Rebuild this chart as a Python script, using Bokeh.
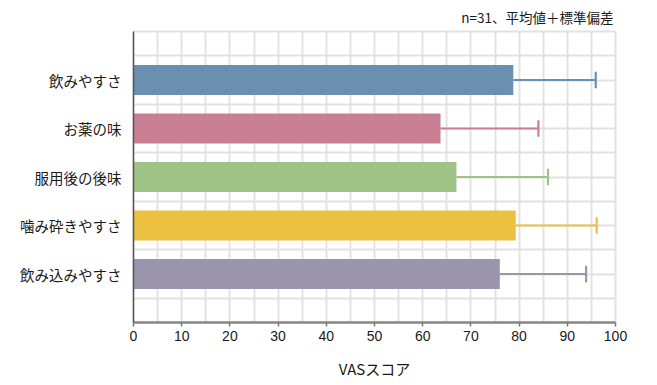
from bokeh.plotting import figure
from bokeh.models import FixedTicker, ColumnDataSource
from bokeh.embed import file_html
from bokeh.resources import INLINE

categories = ["飲みやすさ", "お薬の味", "服用後の後味", "噛み砕きやすさ", "飲み込みやすさ"]
means = [78.8, 63.7, 67.0, 79.3, 76.0]
upper = [95.9, 84.0, 86.0, 96.1, 93.9]
colors = ["#6a8fb0", "#c97f93", "#9dc484", "#ecc040", "#9a95ad"]
x_ticks = [0, 10, 20, 30, 40, 50, 60, 70, 80, 90, 100]
note = "n=31、平均値＋標準偏差"
x_label = "VASスコア"

n = len(categories)
pos = [n - i for i in range(n)]
cap = 0.17
src = ColumnDataSource(dict(
    y=pos, mean=means, up=upper, color=colors,
    cap_lo=[p - cap for p in pos], cap_hi=[p + cap for p in pos],
))

p = figure(output_backend="svg", toolbar_location=None,
           x_range=(0, 100), y_range=(0, n + 1), title=note,
           min_border_left=133, min_border_right=30, min_border_top=0, min_border_bottom=54)
p.frame_width = 482
p.frame_height = 291

p.title.align = "right"
p.title.text_font = "Noto Sans CJK JP"
p.title.text_font_size = "13.5px"
p.title.text_font_style = "normal"
p.title.text_color = "#1a1a1a"
p.title.offset = 2
p.title.standoff = 9

p.hbar(y="y", left=0, right="mean", height=0.62, color="color", line_color=None, source=src)
p.segment(x0="mean", y0="y", x1="up", y1="y", line_color="color", line_width=2.2, source=src)
p.segment(x0="up", y0="cap_lo", x1="up", y1="cap_hi", line_color="color", line_width=2.2, source=src)

# grids
p.xgrid.ticker = FixedTicker(ticks=list(range(0, 101, 5)))
p.ygrid.ticker = FixedTicker(ticks=[k * 0.5 for k in range(0, 2 * (n + 1) + 1)])
for g in (p.xgrid, p.ygrid):
    g.grid_line_color = "#e2e2e2"
    g.grid_line_width = 2
p.outline_line_color = "#e2e2e2"
p.outline_line_width = 2
p.background_fill_color = "white"
p.border_fill_color = "white"

# y axis
p.yaxis.ticker = FixedTicker(ticks=pos)
p.yaxis.major_label_overrides = {pp: c for pp, c in zip(pos, categories)}
p.yaxis.major_tick_line_color = None
p.yaxis.minor_tick_line_color = None
p.yaxis.axis_line_color = "#555555"
p.yaxis.axis_line_width = 1.5
p.yaxis.major_label_text_font = "Noto Sans CJK JP"
p.yaxis.major_label_text_font_size = "14.5px"
p.yaxis.major_label_text_color = "#1a1a1a"
p.yaxis.major_label_standoff = 6

# x axis
p.xaxis.ticker = FixedTicker(ticks=x_ticks)
p.xaxis.axis_line_color = "#888888"
p.xaxis.axis_line_width = 2.5
p.xaxis.major_tick_line_color = "#777777"
p.xaxis.major_tick_line_width = 1.5
p.xaxis.major_tick_in = 0
p.xaxis.major_tick_out = 4
p.xaxis.minor_tick_line_color = None
p.xaxis.major_label_text_font = "Liberation Sans"
p.xaxis.major_label_text_font_size = "14px"
p.xaxis.major_label_text_color = "#1a1a1a"
p.xaxis.major_label_standoff = 4
p.xaxis.axis_label = x_label
p.xaxis.axis_label_text_font = "Noto Sans CJK JP"
p.xaxis.axis_label_text_font_style = "normal"
p.xaxis.axis_label_text_font_size = "15px"
p.xaxis.axis_label_text_color = "#1a1a1a"
p.xaxis.axis_label_standoff = 14

open("out.html", "w").write(file_html(p, INLINE))
